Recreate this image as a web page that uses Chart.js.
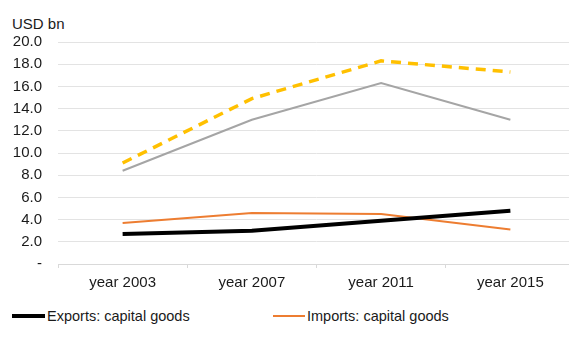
<!DOCTYPE html>
<html>
<head>
<meta charset="utf-8">
<script src="https://cdn.jsdelivr.net/npm/chart.js@4/dist/chart.umd.min.js"></script>
<style>
    html, body { margin: 0; padding: 0; background: #fff; overflow: hidden; width: 569px; height: 338px; }
    #wrap { position: relative; width: 569px; height: 338px; font-family: "Liberation Sans", Arial, sans-serif; color: #1a1a1a; }
    #chartCanvas { position: absolute; left: 0; top: 0; }
    #unit { position: absolute; left: 12px; top: 16px; font-size: 15px; line-height: 15px; }
    .leg { position: absolute; top: 308px; font-size: 14.5px; line-height: 16px; white-space: nowrap; }
    .leg span.sample { position: absolute; top: 8px; }
</style>
</head>
<body>
<div id="wrap">
    <div id="unit">USD bn</div>
    <canvas id="chartCanvas" width="575" height="300"></canvas>
    <div id="legend"></div>
</div>
<script>
    // category labels
    var years = ['year 2003', 'year 2007', 'year 2011', 'year 2015'];

    // series values (USD bn)
    var exportsCapital = [2.7, 3.0, 3.9, 4.8];
    var importsCapital = [3.7, 4.6, 4.5, 3.1];
    var greySeries = [8.4, 13.0, 16.3, 13.0];
    var yellowSeries = [9.1, 14.9, 18.3, 17.3];

    // y tick range
    var yMin = 0;
    var yMax = 20;
    var yStep = 2;

    var lineData = {
        labels: years,
        datasets: [
            {
                label: 'Exports: capital goods',
                data: exportsCapital,
                borderColor: '#000000',
                borderWidth: 4,
                legend: true
            },
            {
                label: 'Imports: capital goods',
                data: importsCapital,
                borderColor: '#ED7D31',
                borderWidth: 2,
                legend: true
            },
            {
                label: 'Series 3',
                data: yellowSeries,
                borderColor: '#FFC000',
                borderWidth: 3.5,
                borderDash: [10, 7]
            },
            {
                label: 'Series 4',
                data: greySeries,
                borderColor: '#A5A5A5',
                borderWidth: 2
            }
        ]
    };

    lineData.datasets.forEach(function (ds) {
        ds.pointRadius = 0;
        ds.tension = 0;
        ds.fill = false;
        ds.borderCapStyle = 'butt';
    });

    var lineOptions = {
        responsive: false,
        animation: false,
        layout: {padding: {top: 42, left: 0, right: 0, bottom: 0}},
        plugins: {
            legend: {display: false},
            tooltip: {enabled: false}
        },
        scales: {
            x: {
                offset: true,
                grid: {
                    offset: true,
                    drawOnChartArea: false,
                    drawTicks: true,
                    tickLength: 4,
                    color: '#d9d9d9'
                },
                border: {color: '#d9d9d9', width: 1},
                ticks: {
                    color: '#1a1a1a',
                    padding: 6,
                    maxRotation: 0,
                    font: {family: 'Liberation Sans', size: 15}
                },
                afterFit: function (scale) {
                    scale.height = 36;
                }
            },
            y: {
                min: yMin,
                max: yMax,
                grid: {color: '#e3e3e3', drawTicks: false},
                border: {display: false},
                ticks: {
                    stepSize: yStep,
                    color: '#1a1a1a',
                    padding: 16,
                    font: {family: 'Liberation Sans', size: 15},
                    callback: function (value) {
                        return value === 0 ? '-' : value.toFixed(1);
                    }
                },
                afterFit: function (scale) {
                    scale.width = 58;
                }
            }
        }
    };

    var ctx = document.getElementById('chartCanvas').getContext('2d');
    new Chart(ctx, {type: 'line', data: lineData, options: lineOptions});

    // legend only for the first two series, the rest is cut off in the original
    var legendLeft = [12, 273];
    var legendWidth = [33, 32];
    var legendHtml = '';
    lineData.datasets.filter(function (ds) { return ds.legend; }).forEach(function (ds, i) {
        legendHtml += '<div class="leg" style="left:' + legendLeft[i] + 'px; padding-left:' + (legendWidth[i] + 2) + 'px">' +
            '<span class="sample" style="left:0; width:' + legendWidth[i] + 'px; height:' + ds.borderWidth + 'px; margin-top:-' + (ds.borderWidth / 2) + 'px; background:' + ds.borderColor + '"></span>' +
            ds.label + '</div>';
    });
    document.getElementById('legend').innerHTML = legendHtml;
</script>
</body>
</html>
